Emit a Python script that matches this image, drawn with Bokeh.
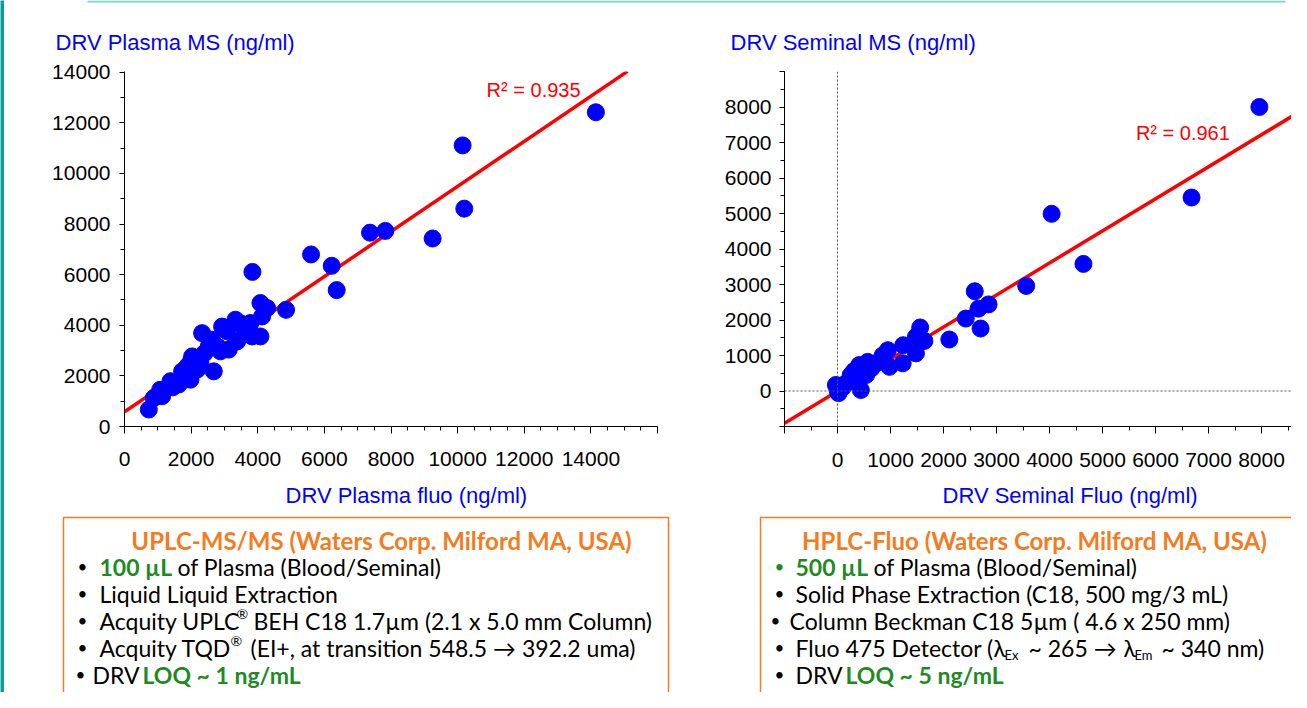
from bokeh.plotting import figure
from bokeh.layouts import row, column
from bokeh.models import Range1d, Label, Span, SingleIntervalTicker, ColumnDataSource
from bokeh.core.properties import value
from bokeh.embed import file_html
from bokeh.resources import INLINE

# ---------------- data ----------------
plasma_fluo = [730, 880, 1130, 1070, 1380, 1630, 1730, 1980, 2030, 2280, 2330, 2680, 2530, 2880,
               2930, 3130, 3330, 3380, 3780, 3830, 4080, 4080, 4280, 4130, 4850, 3080, 2630, 2180,
               1880, 2400, 1450, 3490, 3610, 3840, 5600, 6220, 6370, 7370, 7830, 9250, 10150,
               10200, 14150, 2800, 2000, 1760]
plasma_ms = [670, 1130, 1200, 1450, 1790, 1660, 2180, 1850, 2770, 2510, 3690, 2180, 3170, 2970,
             3950, 3040, 4220, 3360, 4090, 3560, 3560, 4880, 4680, 4350, 4610, 3760, 3430, 2250,
             2370, 2900, 1550, 4075, 3810, 6110, 6800, 6350, 5390, 7660, 7730, 7430, 11110,
             8610, 12420, 3150, 2600, 2100]

seminal_fluo = [0, -30, 160, 250, 440, 410, 570, 540, 730, 820, 950, 980, 1230, 1240, 1480, 1480,
                1560, 1640, 2110, 2420, 2590, 2660, 2850, 2700, 3560, 4040, 4640, 6680, 7960,
                100, 310, 640, 850, 20, 350]
seminal_ms = [28, 170, 215, 450, 28, 730, 820, 450, 780, 870, 1150, 680, 780, 1290, 1060, 1530,
              1790, 1410, 1450, 2040, 2810, 2320, 2440, 1760, 2960, 4990, 3580, 5450, 8000,
              100, 560, 640, 1000, -60, 300]

plasma_fit_slope, plasma_fit_intercept = 0.891, 580
plasma_fit_x = [0, 15100]
seminal_fit_slope, seminal_fit_intercept = 0.903, -5
seminal_fit_x = [-1000, 8850]

plasma_r2 = "R\u00b2 = 0.935"
seminal_r2 = "R\u00b2 = 0.961"

BLUE = "#0000FF"
RED = "#FF0000"
ORANGE = "#F47B20"
GREEN = "#1F8A1F"
TEAL = "#0F9C94"
TEAL_LIGHT = "#80D0CA"
AX_FONT = "Liberation Sans"
BODY_FONT = "Lato"


def deco(w, h, x0, x1, ytop, ybot):
    f = figure(width=w, height=h, x_range=Range1d(x0, x1), y_range=Range1d(ybot, ytop),
               x_axis_location=None, y_axis_location=None, toolbar_location=None,
               output_backend="svg", min_border=0, title=None)
    f.outline_line_color = None
    f.grid.visible = False
    f.background_fill_color = "white"
    f.border_fill_color = "white"
    return f


def style_axes(p, tick_font="21px"):
    p.grid.visible = False
    p.outline_line_color = None
    for ax in (p.xaxis[0], p.yaxis[0]):
        ax.axis_line_color = "black"
        ax.axis_line_width = 1
        ax.major_tick_line_color = "black"
        ax.minor_tick_line_color = "black"
        ax.major_tick_in = 0
        ax.minor_tick_in = 0
        ax.major_label_text_font = AX_FONT
        ax.major_label_text_font_size = tick_font
        ax.major_label_text_color = "black"
    p.xaxis.major_tick_out = 7
    p.xaxis.minor_tick_out = 4
    p.yaxis.major_tick_out = 5
    p.yaxis.minor_tick_out = 4


TOP_H = 58
CH_H = 480 - TOP_H
FRAME_TOP = 71
FRAME_BOTTOM = 426
# ---------------- left bar ----------------
leftbar = deco(4, 692, 0, 4, 0, 692)
leftbar.background_fill_color = TEAL
leftbar.border_fill_color = TEAL

# ---------------- top strip (y-axis titles) ----------------
top = deco(1287, TOP_H, 4, 1291, 0, TOP_H)
top.quad(left=[87], right=[1285], top=[0], bottom=[2], fill_color=TEAL_LIGHT, line_color=None)
top.text(x=[55, 730], y=[42, 42], text=["DRV Plasma MS (ng/ml)", "DRV Seminal MS (ng/ml)"],
         text_font=value(AX_FONT), text_font_size=value("22px"), text_color=BLUE,
         text_baseline="middle", text_align="left")

# ---------------- left chart ----------------
p1 = figure(width=696, height=CH_H, x_range=Range1d(0, 16000), y_range=Range1d(0, 14030),
            toolbar_location=None, output_backend="svg", title=None,
            min_border_left=120, min_border_right=43, min_border_top=FRAME_TOP - TOP_H,
            min_border_bottom=480 - FRAME_BOTTOM)
style_axes(p1)
p1.xaxis.ticker = SingleIntervalTicker(interval=2000, num_minor_ticks=4)
p1.yaxis.ticker = SingleIntervalTicker(interval=2000, num_minor_ticks=2)
p1.xaxis.major_label_overrides = {16000: ""}
p1.xaxis.major_label_standoff = 18
p1.yaxis.major_label_standoff = 9
p1.line(plasma_fit_x, [plasma_fit_slope * v + plasma_fit_intercept for v in plasma_fit_x],
        line_color=RED, line_width=3.5)
p1.scatter(plasma_fluo, plasma_ms, size=17, fill_color=BLUE, line_color=BLUE)
p1.add_layout(Label(x=10870, y=13290, text=plasma_r2, text_color=RED, text_font=AX_FONT,
                    text_font_size="20px", text_baseline="middle", text_align="left"))

# ---------------- right chart ----------------
p2 = figure(width=591, height=CH_H, x_range=Range1d(-1000, 8566), y_range=Range1d(-1000, 9000),
            toolbar_location=None, output_backend="svg", title=None,
            min_border_left=84, min_border_right=0, min_border_top=FRAME_TOP - TOP_H,
            min_border_bottom=480 - FRAME_BOTTOM)
style_axes(p2)
p2.xaxis.ticker = SingleIntervalTicker(interval=1000, num_minor_ticks=2)
p2.yaxis.ticker = SingleIntervalTicker(interval=1000, num_minor_ticks=2)
p2.xaxis.major_label_overrides = {-1000: ""}
p2.yaxis.major_label_overrides = {-1000: "", 9000: ""}
p2.xaxis.major_label_standoff = 19
p2.yaxis.major_label_standoff = 8
p2.add_layout(Span(location=0, dimension="width", line_color="#555555", line_width=1, line_dash="2 2"))
p2.add_layout(Span(location=0, dimension="height", line_color="#555555", line_width=1, line_dash="2 2"))
p2.line(seminal_fit_x, [seminal_fit_slope * v + seminal_fit_intercept for v in seminal_fit_x],
        line_color=RED, line_width=3.5)
p2.scatter(seminal_fluo, seminal_ms, size=17, fill_color=BLUE, line_color=BLUE)
p2.add_layout(Label(x=5630, y=7280, text=seminal_r2, text_color=RED, text_font=AX_FONT,
                    text_font_size="20px", text_baseline="middle", text_align="left"))

# ---------------- bottom (x-axis titles + method boxes) ----------------
bot = deco(1287, 212, 4, 1291, 480, 692)
bot.text(x=[285, 942], y=[495, 495], text=["DRV Plasma fluo (ng/ml)", "DRV Seminal Fluo (ng/ml)"],
         text_font=value(AX_FONT), text_font_size=value("22px"), text_color=BLUE,
         text_baseline="middle", text_align="left")
bot.quad(left=[63, 760], right=[668, 1330], top=[517, 517], bottom=[730, 730],
         fill_color=None, line_color=ORANGE, line_width=1.5)

Y0, Y1, Y2, Y3, Y4, Y5 = 540, 566, 593, 620, 647, 674
# segments: x, y, text, color, bold, size, align
segs = [
    (381, Y0, "UPLC-MS/MS (Waters Corp. Milford MA, USA)", ORANGE, True, 24, "center"),
    (82, Y1, "\u2022", "black", False, 17, "center"),
    (99, Y1, "100 \u00b5L", GREEN, True, 23, "left"),
    (177, Y1, "of Plasma (Blood/Seminal)", "black", False, 23, "left"),
    (82, Y2, "\u2022", "black", False, 17, "center"),
    (99, Y2, "Liquid Liquid Extraction", "black", False, 23, "left"),
    (82, Y3, "\u2022", "black", False, 17, "center"),
    (99, Y3, "Acquity UPLC", "black", False, 23, "left"),
    (236, Y3 - 7, "\u00ae", "black", False, 14, "left"),
    (253, Y3, "BEH C18 1.7\u00b5m (2.1 x 5.0 mm Column)", "black", False, 23, "left"),
    (82, Y4, "\u2022", "black", False, 17, "center"),
    (99, Y4, "Acquity TQD", "black", False, 23, "left"),
    (230, Y4 - 7, "\u00ae", "black", False, 14, "left"),
    (250, Y4, "(EI+, at transition 548.5 \u2192 392.2 uma)", "black", False, 23, "left"),
    (80, Y5, "\u2022", "black", False, 17, "center"),
    (92, Y5, "DRV", "black", False, 23, "left"),
    (142, Y5, "LOQ ~ 1 ng/mL", GREEN, True, 23, "left"),

    (1034, Y0, "HPLC-Fluo (Waters Corp. Milford MA, USA)", ORANGE, True, 24, "center"),
    (779, Y1, "\u2022", GREEN, False, 17, "center"),
    (795, Y1, "500 \u00b5L", GREEN, True, 23, "left"),
    (873, Y1, "of Plasma (Blood/Seminal)", "black", False, 23, "left"),
    (779, Y2, "\u2022", "black", False, 17, "center"),
    (795, Y2, "Solid Phase Extraction (C18, 500 mg/3 mL)", "black", False, 23, "left"),
    (775, Y3, "\u2022", "black", False, 17, "center"),
    (789, Y3, "Column Beckman C18 5\u00b5m ( 4.6 x 250 mm)", "black", False, 23, "left"),
    (779, Y4, "\u2022", "black", False, 17, "center"),
    (795, Y4, "Fluo 475 Detector (", "black", False, 23, "left"),
    (993, Y4, "\u03bb", "black", False, 23, "left"),
    (1004, Y4 + 7, "Ex", "black", False, 13, "left"),
    (1028, Y4, "~ 265 \u2192", "black", False, 23, "left"),
    (1123, Y4, "\u03bb", "black", False, 23, "left"),
    (1134, Y4 + 7, "Em", "black", False, 13, "left"),
    (1161, Y4, "~ 340 nm)", "black", False, 23, "left"),
    (779, Y5, "\u2022", "black", False, 17, "center"),
    (795, Y5, "DRV", "black", False, 23, "left"),
    (845, Y5, "LOQ ~ 5 ng/mL", GREEN, True, 23, "left"),
]
src = ColumnDataSource(dict(
    x=[s[0] for s in segs], y=[s[1] for s in segs], text=[s[2] for s in segs],
    color=[s[3] for s in segs], style=["bold" if s[4] else "normal" for s in segs],
    size=["%dpx" % s[5] for s in segs], align=[s[6] for s in segs]))
bot.text(x="x", y="y", text="text", source=src, text_color="color", text_font_style="style",
         text_font_size="size", text_align="align", text_baseline="middle",
         text_font=value(BODY_FONT))

layout = row(leftbar,
             column(top, row(p1, p2, spacing=0), bot, spacing=0),
             spacing=0)

open("out.html", "w").write(file_html(layout, INLINE))
